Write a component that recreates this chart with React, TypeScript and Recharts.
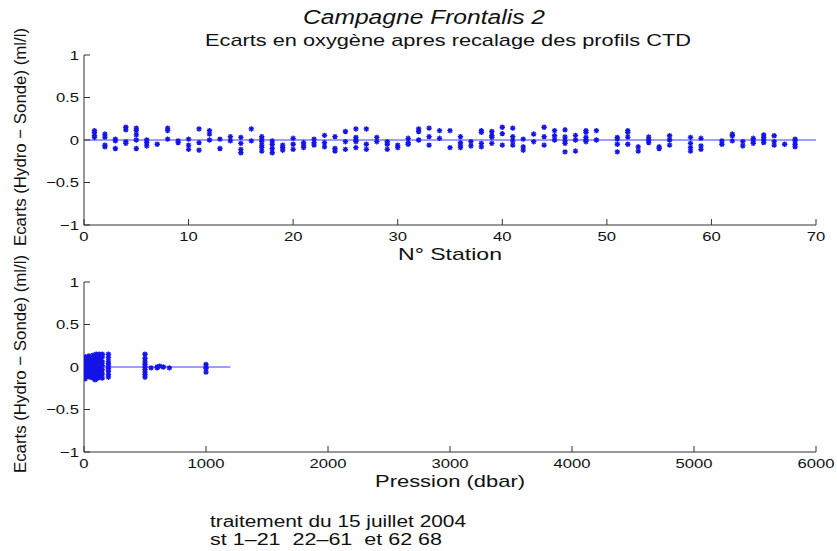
import { ScatterChart, Scatter, XAxis, YAxis, ReferenceLine, Label } from 'recharts'

// Ecarts (hydro - sonde) par station
const stations = [
  1, 2, 3, 4, 5, 6, 7, 8, 9, 10, 11, 12, 13, 14, 15, 16, 17, 18, 19, 20,
  21, 22, 23, 24, 25, 26, 27, 28, 29, 30, 31, 32, 33, 34, 35, 36, 37, 38, 39, 40,
  41, 42, 43, 44, 45, 46, 47, 48, 49, 51, 52, 53, 54, 55, 56, 58, 59, 61, 62, 63,
  64, 65, 66, 67, 68,
]
const ecartsStation = [
  [0.11, 0.09, 0.055, 0.03], [0.07, 0.035, -0.06, -0.08], [0.01, -0.01, -0.1],
  [0.15, 0.12, -0.02, -0.04], [0.14, 0.11, 0.06, 0.0, -0.1], [0.0, -0.03, -0.07],
  [-0.05], [0.14, 0.11, 0.01], [-0.01, -0.03], [0.01, -0.06, -0.11],
  [0.13, -0.03, -0.12], [0.11, 0.07, 0.0], [0.01, -0.1], [0.04, -0.01],
  [0.03, -0.04, -0.11, -0.15], [0.13, -0.01], [0.04, 0.01, -0.02, -0.06, -0.09, -0.13],
  [-0.01, -0.05, -0.1, -0.15], [-0.06, -0.09, -0.12], [0.02, -0.05, -0.11],
  [-0.03, -0.06, -0.09], [0.01, -0.03, -0.06], [0.055, -0.03, -0.08],
  [0.04, -0.1, -0.13], [0.1, -0.02, -0.11], [0.13, 0.03, 0.0, -0.02, -0.09],
  [0.13, -0.05, -0.11], [0.03, -0.02], [-0.02, -0.05, -0.11], [-0.06, -0.09],
  [0.02, -0.03, -0.05], [0.13, 0.1, 0.0], [0.14, 0.04, -0.06], [0.11, 0.02],
  [0.11, -0.09], [0.04, -0.03, -0.06, -0.09], [-0.02, -0.07], [0.11, 0.09, -0.04, -0.08],
  [0.1, 0.05, 0.03, -0.04], [0.15, 0.075, -0.06], [0.14, 0.04, -0.01, -0.06],
  [0.01, -0.08, -0.12], [0.07, -0.02], [0.15, 0.04, -0.06], [0.11, 0.05, 0.0],
  [0.12, 0.035, -0.01, -0.04, -0.14], [0.055, 0.0, -0.13], [0.11, 0.09, 0.03, 0.0, -0.02],
  [0.11, 0.0], [0.03, 0.01, -0.05, -0.14], [0.11, 0.09, 0.035, -0.05], [-0.08, -0.13],
  [0.035, 0.0, -0.03], [-0.08, -0.1], [0.05, 0.0, -0.06], [0.03, -0.04, -0.09, -0.13],
  [0.02, -0.07, -0.11], [-0.01, -0.05], [0.07, 0.05, -0.01], [-0.02, -0.07],
  [0.02, -0.01, -0.04], [0.06, 0.03, 0.0, -0.03], [0.05, -0.02, -0.06], [-0.05],
  [0.01, -0.01, -0.05, -0.08],
]

// Ecarts en fonction de la pression
const pressions = [5, 10, 20, 30, 40, 50, 60, 75, 90, 100, 110, 125, 140, 150, 200, 500, 550, 600, 620, 650, 700, 1000]
const ecartsPression = [
  [0.1, 0.07, 0.03, 0.0, -0.04, -0.08, -0.12],
  [0.12, 0.05, 0.01, -0.02, -0.06, -0.1, -0.14],
  [0.09, 0.04, -0.01, -0.05, -0.09],
  [0.1, 0.06, 0.02, -0.03, -0.07, -0.11],
  [0.13, 0.08, 0.03, -0.02, -0.06, -0.1],
  [0.11, 0.05, 0.0, -0.04, -0.08, -0.12],
  [0.09, 0.06, 0.02, -0.02, -0.07, -0.11],
  [0.14, 0.1, 0.05, 0.01, -0.03, -0.08, -0.13],
  [0.12, 0.08, 0.03, -0.01, -0.05, -0.1, -0.15],
  [0.15, 0.11, 0.07, 0.03, -0.02, -0.06, -0.1, -0.14],
  [0.13, 0.09, 0.04, 0.0, -0.04, -0.09, -0.13],
  [0.15, 0.1, 0.05, 0.01, -0.03, -0.07, -0.12],
  [0.14, 0.08, 0.03, -0.02, -0.06, -0.1],
  [0.15, 0.12, 0.06, 0.02, -0.03, -0.08, -0.13],
  [0.15, 0.11, 0.07, 0.04, 0.01, -0.02, -0.05, -0.09, -0.12],
  [0.15, 0.1, 0.06, 0.03, 0.0, -0.03, -0.06, -0.09, -0.12],
  [-0.01], [0.0, -0.01], [0.01], [0.0], [-0.01],
  [0.03, 0.0, -0.02, -0.06],
]

const yTicks = [-1, -0.5, 0, 0.5, 1]
const stationTicks = [0, 10, 20, 30, 40, 50, 60, 70]
const pressionTicks = [0, 1000, 2000, 3000, 4000, 5000, 6000]

const stationData = stations.flatMap((s, i) => ecartsStation[i].map((e) => ({ x: s, y: e })))
const pressionData = pressions.flatMap((p, i) => ecartsPression[i].map((e) => ({ x: p, y: e })))

const FONT = '"Liberation Sans", Arial, Helvetica, sans-serif'
const BLUE = '#1414e6'
const AXIS = '#333'
const INK = '#111'
// horizontal stretch applied to all horizontal text
const SX = 1.28

// matlab style '*' marker
const Star = (props: any) => {
  const { cx, cy } = props
  if (cx == null || cy == null) return null
  const r = 2.7
  const d = r * 0.72
  return (
    <path
      d={`M${cx - r},${cy}H${cx + r}M${cx},${cy - r}V${cy + r}M${cx - d},${cy - d}L${cx + d},${cy + d}M${cx - d},${cy + d}L${cx + d},${cy - d}`}
      stroke={BLUE}
      strokeWidth={1.3}
      fill="none"
    />
  )
}

const fmt = (v: number) => (v < 0 ? '\u2212' + String(-v) : String(v))

const XTick = (props: any) => {
  const { x, y, payload } = props
  return (
    <text transform={`translate(${x},${y}) scale(${SX},1)`} dy="0.72em" textAnchor="middle" fontFamily={FONT} fontSize={13} fill={INK}>
      {fmt(payload.value)}
    </text>
  )
}

const YTick = (props: any) => {
  const { x, y, payload } = props
  return (
    <text transform={`translate(${x},${y}) scale(${SX},1)`} dy="0.36em" textAnchor="end" fontFamily={FONT} fontSize={13} fill={INK}>
      {fmt(payload.value)}
    </text>
  )
}

const xLabel = (text: string, len: number) => (props: any) => {
  const { viewBox } = props
  const cx = viewBox.x + viewBox.width / 2
  return (
    <text x={cx} y={viewBox.y + 35} textAnchor="middle" textLength={len} lengthAdjust="spacingAndGlyphs" fontFamily={FONT} fontSize={17} fill={INK}>
      {text}
    </text>
  )
}

const yLabel = (props: any) => {
  const { viewBox } = props
  const cy = viewBox.y + viewBox.height / 2 - 3
  return (
    <text
      x={20}
      y={cy}
      transform={`rotate(-90, 20, ${cy})`}
      textAnchor="middle"
      dominantBaseline="central"
      textLength={218}
      lengthAdjust="spacingAndGlyphs"
      fontFamily={FONT}
      fontSize={17}
      fill={INK}
    >
      Ecarts (Hydro {'\u2212'} Sonde) (ml/l)
    </text>
  )
}

interface PanelProps {
  data: { x: number; y: number }[]
  domain: [number, number]
  ticks: number[]
  title: string
  titleLen: number
  lineEnd: number
}

function Panel({ data, domain, ticks, title, titleLen, lineEnd }: PanelProps) {
  return (
    <ScatterChart width={837} height={270} margin={{ top: 55, right: 21, bottom: 5, left: 0 }}>
      <XAxis
        type="number"
        dataKey="x"
        domain={domain}
        ticks={ticks}
        allowDataOverflow
        tickSize={-6}
        tickMargin={13}
        height={40}
        stroke={AXIS}
        tick={<XTick />}
      >
        <Label content={xLabel(title, titleLen)} />
      </XAxis>
      <YAxis
        type="number"
        dataKey="y"
        domain={[-1, 1]}
        ticks={yTicks}
        tickSize={-6}
        tickMargin={11}
        width={84}
        stroke={AXIS}
        tick={<YTick />}
      >
        <Label content={yLabel} />
      </YAxis>
      <ReferenceLine
        segment={[{ x: domain[0], y: 0 }, { x: lineEnd, y: 0 }]}
        stroke="#3c3cff"
        strokeWidth={1}
        ifOverflow="hidden"
      />
      <Scatter data={data} shape={<Star />} isAnimationActive={false} />
    </ScatterChart>
  )
}

export default function App() {
  return (
    <div style={{ position: 'absolute', left: 0, top: 0, width: 837, height: 551, background: '#fff' }}>
      <div style={{ position: 'absolute', top: 0, left: 0 }}>
        <Panel data={stationData} domain={[0, 70]} ticks={stationTicks} title="N° Station" titleLen={104} lineEnd={70} />
      </div>
      <div style={{ position: 'absolute', top: 227, left: 0 }}>
        <Panel data={pressionData} domain={[0, 6000]} ticks={pressionTicks} title="Pression (dbar)" titleLen={150} lineEnd={1200} />
      </div>
      <svg width={837} height={551} style={{ position: 'absolute', left: 0, top: 0, pointerEvents: 'none' }} fontFamily={FONT} fill={INK}>
        <text x={424} y={24} textAnchor="middle" fontSize={20} fontStyle="italic" textLength={242} lengthAdjust="spacingAndGlyphs">
          Campagne Frontalis 2
        </text>
        <text x={448} y={46} textAnchor="middle" fontSize={17} textLength={486} lengthAdjust="spacingAndGlyphs">
          Ecarts en oxygène apres recalage des profils CTD
        </text>
        <text x={210} y={527} fontSize={16} textLength={256} lengthAdjust="spacingAndGlyphs">
          traitement du 15 juillet 2004
        </text>
        <text x={210} y={545} fontSize={16} textLength={232} lengthAdjust="spacingAndGlyphs" style={{ whiteSpace: 'pre' }}>
          {'st 1\u201321  22\u201361  et 62 68'}
        </text>
      </svg>
    </div>
  )
}
